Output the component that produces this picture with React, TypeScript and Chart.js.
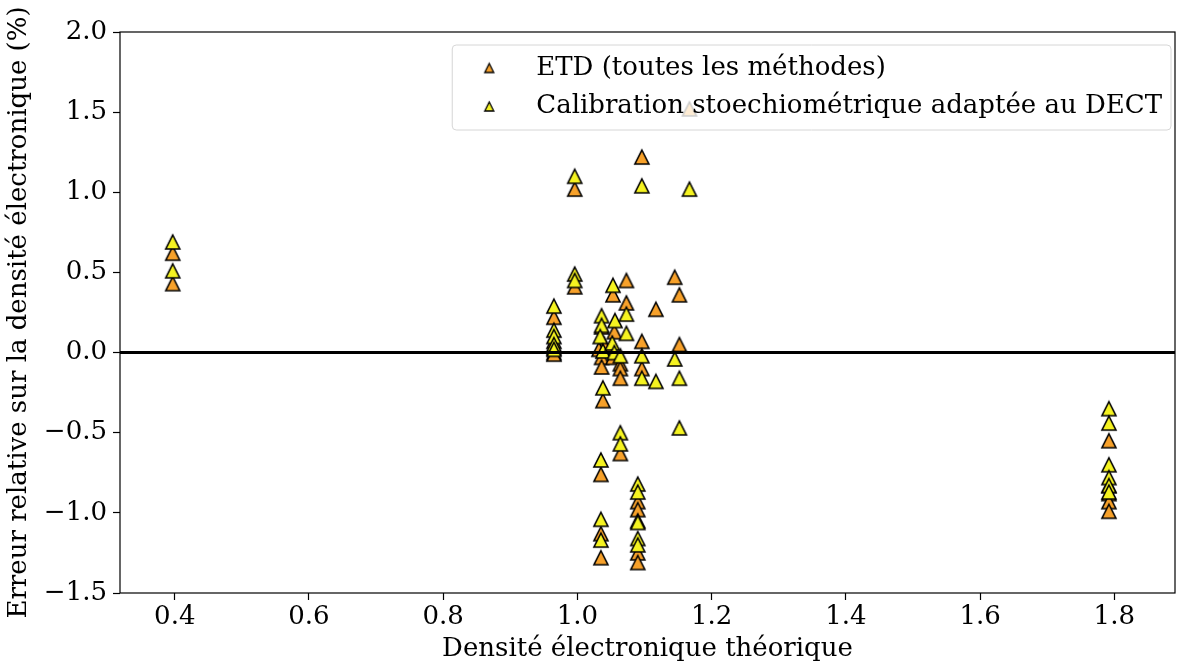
import React, { useEffect, useRef } from 'react';
import { Chart, registerables } from 'chart.js';

Chart.register(...registerables);

// ---- Data ----
const etdX = [
  0.397, 0.397,
  0.965, 0.965, 0.965, 0.965, 0.965,
  0.996, 0.996,
  1.036, 1.040, 1.032, 1.036, 1.036, 1.038, 1.035, 1.035, 1.035,
  1.053, 1.055, 1.050, 1.053,
  1.064, 1.064, 1.064, 1.064,
  1.073, 1.073,
  1.096, 1.096, 1.096,
  1.090, 1.090, 1.090, 1.090, 1.090,
  1.117,
  1.145,
  1.152, 1.152,
  1.167,
  1.792, 1.792, 1.792, 1.792, 1.792,
];
const etdY = [
  0.62, 0.43,
  0.22, 0.07, 0.03, 0.00, -0.01,
  1.02, 0.41,
  0.16, 0.05, 0.02, -0.03, -0.09, -0.30, -0.76, -1.13, -1.28,
  0.36, 0.13, 0.03, -0.03,
  -0.07, -0.10, -0.16, -0.63,
  0.45, 0.31,
  1.22, 0.07, -0.10,
  -0.93, -0.98, -1.05, -1.25, -1.31,
  0.27,
  0.47,
  0.36, 0.05,
  1.52,
  -0.55, -0.83, -0.88, -0.93, -0.99,
];
const calibX = [
  0.397, 0.397,
  0.965, 0.965, 0.965, 0.965, 0.965,
  0.996, 0.996, 0.996,
  1.036, 1.036, 1.034, 1.038, 1.038, 1.035, 1.035, 1.035,
  1.053, 1.056, 1.052, 1.055,
  1.064, 1.064, 1.064,
  1.073, 1.073,
  1.096, 1.096, 1.096,
  1.090, 1.090, 1.090, 1.090, 1.090,
  1.117,
  1.145,
  1.152, 1.152,
  1.167,
  1.792, 1.792, 1.792, 1.792, 1.792, 1.792,
];
const calibY = [
  0.69, 0.51,
  0.29, 0.14, 0.10, 0.05, 0.02,
  1.10, 0.49, 0.45,
  0.23, 0.17, 0.10, 0.01, -0.22, -0.67, -1.04, -1.17,
  0.42, 0.20, 0.06, 0.00,
  -0.02, -0.50, -0.57,
  0.24, 0.12,
  1.04, -0.02, -0.16,
  -0.82, -0.87, -1.06, -1.16, -1.20,
  -0.18,
  -0.04,
  -0.16, -0.47,
  1.02,
  -0.35, -0.44, -0.70, -0.78, -0.83, -0.87,
];

const seriesLabels = ['ETD (toutes les méthodes)', 'Calibration stoechiométrique adaptée au DECT'];
const seriesColors = ['#f7a12a', '#f5f321'];
const xTicks = [0.4, 0.6, 0.8, 1.0, 1.2, 1.4, 1.6, 1.8];
const yTicks = [-1.5, -1.0, -0.5, 0.0, 0.5, 1.0, 1.5, 2.0];
const xRange = [0.3184, 1.8905];
const yRange = [-1.5, 2.0];
const xTitle = 'Densité électronique théorique';
const yTitle = 'Erreur relative sur la densité électronique (%)';

const FONT = 'DejaVu Serif';
const FSIZE = 26;

function makeTriangle(fill: string, size: number, lw: number): HTMLCanvasElement {
  const c = document.createElement('canvas');
  const pad = Math.ceil(lw + 2);
  c.width = size + pad * 2;
  c.height = size + pad * 2;
  const ctx = c.getContext('2d')!;
  ctx.beginPath();
  ctx.moveTo(c.width / 2, pad);
  ctx.lineTo(pad + size, pad + size);
  ctx.lineTo(pad, pad + size);
  ctx.closePath();
  ctx.fillStyle = fill;
  ctx.fill();
  ctx.lineWidth = lw;
  ctx.lineJoin = 'miter';
  ctx.strokeStyle = '#000';
  ctx.stroke();
  return c;
}

const fmt = (v: number) => v.toFixed(1).replace('-', '\u2212');

export default function App() {
  const ref = useRef<HTMLCanvasElement | null>(null);

  useEffect(() => {
    if (!ref.current) return;
    const markers = seriesColors.map((c) => makeTriangle(c, 14, 1.6));
    const legendMarkers = seriesColors.map((c) => makeTriangle(c, 9, 1.3));

    const overlay = {
      id: 'overlay',
      afterDatasetsDraw(chart: any) {
        const { ctx, chartArea: a, scales } = chart;
        const y0 = scales.y.getPixelForValue(0);
        ctx.save();
        // zero line
        ctx.strokeStyle = '#000';
        ctx.lineWidth = 3;
        ctx.beginPath();
        ctx.moveTo(a.left, y0);
        ctx.lineTo(a.right, y0);
        ctx.stroke();
        // frame
        ctx.lineWidth = 1.2;
        ctx.strokeRect(a.left, a.top, a.right - a.left, a.bottom - a.top);
        // legend
        ctx.font = `${FSIZE}px "${FONT}"`;
        const textW = Math.max(...seriesLabels.map((t) => ctx.measureText(t).width));
        const right = a.right - 4;
        const top = a.top + 13;
        const w = 84 + textW + 9;
        const h = 85;
        const left = right - w;
        ctx.beginPath();
        if ((ctx as any).roundRect) (ctx as any).roundRect(left, top, w, h, 4);
        else ctx.rect(left, top, w, h);
        ctx.fillStyle = 'rgba(255,255,255,0.8)';
        ctx.fill();
        ctx.strokeStyle = '#d6d6d6';
        ctx.lineWidth = 1;
        ctx.stroke();
        ctx.fillStyle = '#000';
        ctx.textBaseline = 'middle';
        ctx.textAlign = 'left';
        seriesLabels.forEach((t, i) => {
          const cy = top + 23 + i * 38.5;
          const m = legendMarkers[i];
          ctx.drawImage(m, left + 37 - m.width / 2, cy - m.height / 2);
          ctx.fillText(t, left + 84, cy);
        });
        ctx.restore();
      },
    };

    const tickFont = { family: FONT, size: FSIZE };
    const chart = new Chart(ref.current, {
      type: 'scatter',
      data: {
        datasets: [
          {
            label: seriesLabels[0],
            data: etdX.map((x, i) => ({ x, y: etdY[i] })),
            pointStyle: markers[0] as any,
            backgroundColor: seriesColors[0],
            borderColor: '#000',
            order: 2,
          },
          {
            label: seriesLabels[1],
            data: calibX.map((x, i) => ({ x, y: calibY[i] })),
            pointStyle: markers[1] as any,
            backgroundColor: seriesColors[1],
            borderColor: '#000',
            order: 1,
          },
        ],
      },
      options: {
        animation: false,
        responsive: false,
        layout: { padding: { top: 32, right: 1, left: 0, bottom: 0 } },
        plugins: { legend: { display: false }, tooltip: { enabled: false } },
        scales: {
          x: {
            type: 'linear',
            min: xRange[0],
            max: xRange[1],
            afterBuildTicks: (s: any) => {
              s.ticks = xTicks.map((v) => ({ value: v }));
            },
            afterFit: (s: any) => {
              s.height = 72;
              s.paddingLeft = 0;
              s.paddingRight = 0;
            },
            ticks: { callback: (v: any) => fmt(Number(v)), font: tickFont, color: '#000', padding: 2, maxRotation: 0 },
            grid: { display: true, drawOnChartArea: false, drawTicks: true, tickLength: 7, tickWidth: 1.2, tickColor: '#000', color: '#000' },
            border: { display: false },
            title: { display: true, text: xTitle, font: tickFont, color: '#000', padding: { top: 0, bottom: 0 } },
          },
          y: {
            type: 'linear',
            min: yRange[0],
            max: yRange[1],
            afterBuildTicks: (s: any) => {
              s.ticks = yTicks.map((v) => ({ value: v }));
            },
            afterFit: (s: any) => {
              s.width = 120;
              s.paddingTop = 0;
              s.paddingBottom = 0;
            },
            ticks: { callback: (v: any) => fmt(Number(v)), font: tickFont, color: '#000', padding: 6 },
            grid: { display: true, drawOnChartArea: false, drawTicks: true, tickLength: 7, tickWidth: 1.2, tickColor: '#000', color: '#000' },
            border: { display: false },
            title: { display: true, text: yTitle, font: tickFont, color: '#000', padding: { top: 4, bottom: 0 } },
          },
        },
      } as any,
      plugins: [overlay],
    });
    return () => chart.destroy();
  }, []);

  return (
    <div style={{ position: 'absolute', left: 0, top: 0, width: 1180, height: 665, background: '#fff' }}>
      <canvas ref={ref} width={1180} height={665} style={{ display: 'block' }} />
    </div>
  );
}
